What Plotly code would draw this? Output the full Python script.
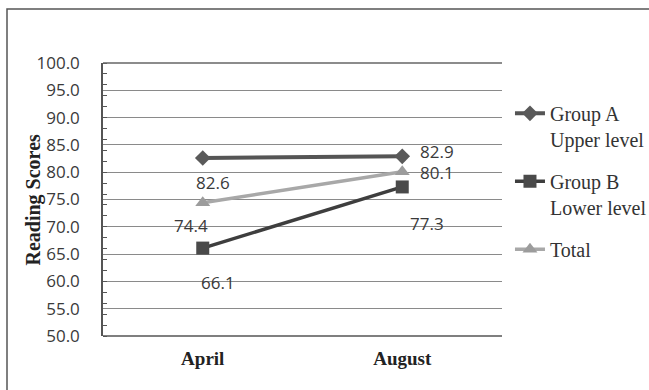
import plotly.graph_objects as go

categories = ["April", "August"]
group_a = [82.6, 82.9]
group_b = [66.1, 77.3]
total = [74.4, 80.1]
series_names = ["Group A<br>Upper level", "Group B<br>Lower level", "Total"]
y_ticks = [50, 55, 60, 65, 70, 75, 80, 85, 90, 95, 100]

fig = go.Figure()

styles = [
    dict(color="#555555", width=4, symbol="diamond", msize=12, mcolor="#5a5a5a"),
    dict(color="#3e3e3e", width=3.5, symbol="square", msize=13, mcolor="#4a4a4a"),
    dict(color="#a8a8a8", width=3.5, symbol="triangle-up", msize=13, mcolor="#9c9c9c"),
]
data = [group_a, group_b, total]

for i, (name, vals, st) in enumerate(zip(series_names, data, styles)):
    fig.add_trace(go.Scatter(
        x=categories, y=vals, name=name, mode="lines+markers",
        legendgroup=f"g{i}",
        line=dict(color=st["color"], width=st["width"]),
        marker=dict(symbol=st["symbol"], size=st["msize"], color=st["mcolor"]),
    ))

# data label offsets (pixels) per series/point
offsets = [
    [(10, -24), (35, 5)],
    [(15, -34), (25, -37)],
    [(-12, -23), (35, -1)],
]
for vals, offs in zip(data, offsets):
    for cat, v, (dx, dy) in zip(categories, vals, offs):
        fig.add_annotation(
            x=cat, y=v, text=f"{v:.1f}", showarrow=False,
            xshift=dx, yshift=dy,
            font=dict(family="Open Sans", size=17, color="#3a3a3a"),
        )

# y-axis title
fig.add_annotation(
    x=0, y=0.5, xref="paper", yref="paper", xanchor="center", yanchor="middle",
    xshift=-70, textangle=-90, showarrow=False, text="<b>Reading Scores</b>",
    font=dict(family="Liberation Serif", size=20, color="#222222"),
)

# outer frame
fig.add_shape(type="rect", xref="paper", yref="paper",
              x0=-0.2406, x1=1.40, y0=-0.25, y1=1.1978,
              line=dict(color="#555555", width=1.5), layer="below")

fig.update_layout(
    width=649, height=390,
    margin=dict(l=103, r=147, t=63, b=54, autoexpand=False),
    paper_bgcolor="white", plot_bgcolor="white",
    showlegend=True,
    legend=dict(
        x=1.02, xanchor="left", y=0.887, yanchor="top",
        font=dict(family="Liberation Serif", size=20, color="#333333"),
        valign="top", tracegroupgap=13, bgcolor="rgba(0,0,0,0)",
    ),
)

fig.update_xaxes(
    type="category", range=[-0.5, 1.5], automargin=False,
    showgrid=False, showline=False, zeroline=False, ticks="",
    tickfont=dict(family="Liberation Serif", size=19, color="#222222"),
    ticklabelstandoff=9,
    tickvals=categories, ticktext=[f"<b>{c}</b>" for c in categories],
)
fig.update_yaxes(
    range=[50, 100], tickvals=y_ticks, tickformat=".1f", automargin=False,
    showgrid=True, gridcolor="#8a8a8a", gridwidth=1,
    showline=True, linecolor="#555555", linewidth=1.5, mirror=False,
    zeroline=False, ticks="",
    minor=dict(ticks="inside", dtick=2, ticklen=4, tickcolor="#555555", showgrid=False),
    tickfont=dict(family="Open Sans", size=17, color="#3a3a3a"),
    ticklabelstandoff=18,
)

# bottom and top plot lines
fig.add_shape(type="line", xref="paper", yref="paper", x0=0, x1=1, y0=0, y1=0,
              line=dict(color="#555555", width=1.5))
fig.add_shape(type="line", xref="paper", yref="paper", x0=0, x1=1, y0=1, y1=1,
              line=dict(color="#666666", width=1.5))

fig.write_html("out.html", config={"displayModeBar": False},
               post_script="document.body.style.margin='0px';")
